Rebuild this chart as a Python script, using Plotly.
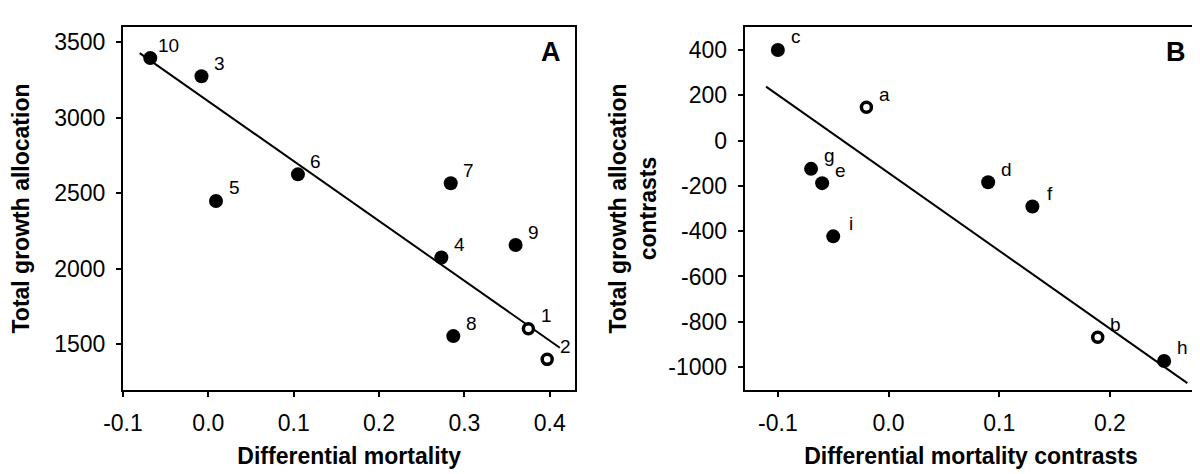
import plotly.graph_objects as go

# Panel A: differential mortality vs total growth allocation
a_fill_lab = ["10", "3", "5", "6", "7", "4", "9", "8"]
a_fill_x = [-0.068, -0.008, 0.009, 0.105, 0.284, 0.273, 0.360, 0.287]
a_fill_y = [3396, 3276, 2450, 2626, 2567, 2076, 2158, 1555]
a_open_lab = ["1", "2"]
a_open_x = [0.375, 0.397]
a_open_y = [1603, 1401]
a_line_x = [-0.0804, 0.4118]
a_line_y = [3429, 1478]

# Panel B: contrasts
b_fill_lab = ["c", "g", "e", "i", "d", "f", "h"]
b_fill_x = [-0.100, -0.070, -0.060, -0.050, 0.090, 0.130, 0.249]
b_fill_y = [400, -125, -188, -423, -184, -291, -973]
b_open_lab = ["a", "b"]
b_open_x = [-0.020, 0.189]
b_open_y = [147, -868]
b_line_x = [-0.1107, 0.270]
b_line_y = [238, -1071]

a_xticks = [-0.1, 0.0, 0.1, 0.2, 0.3, 0.4]
a_xtext = ["-0.1", "0.0", "0.1", "0.2", "0.3", "0.4"]
a_yticks = [1500, 2000, 2500, 3000, 3500]
b_xticks = [-0.1, 0.0, 0.1, 0.2]
b_xtext = ["-0.1", "0.0", "0.1", "0.2"]
b_yticks = [-1000, -800, -600, -400, -200, 0, 200, 400]
b_ytext = ["-1000", "-800", "-600", "-400", "-200", "0", "200", "400"]

FONT = "Liberation Sans, Arial, sans-serif"

fig = go.Figure()


def add_panel(fig, xa, ya, lx, ly, fx, fy, ox, oy):
    fig.add_trace(go.Scatter(x=lx, y=ly, mode="lines", xaxis=xa, yaxis=ya,
                             line=dict(color="black", width=2), showlegend=False))
    fig.add_trace(go.Scatter(x=fx, y=fy, mode="markers", xaxis=xa, yaxis=ya,
                             marker=dict(color="black", size=14, line=dict(width=0)),
                             showlegend=False))
    fig.add_trace(go.Scatter(x=ox, y=oy, mode="markers", xaxis=xa, yaxis=ya,
                             marker=dict(color="white", size=10,
                                         line=dict(color="black", width=3.5)),
                             showlegend=False))


add_panel(fig, "x", "y", a_line_x, a_line_y, a_fill_x, a_fill_y, a_open_x, a_open_y)
add_panel(fig, "x2", "y2", b_line_x, b_line_y, b_fill_x, b_fill_y, b_open_x, b_open_y)

annotations = []
for xa, ya, labs, xs, ys in [
    ("x", "y", a_fill_lab + a_open_lab, a_fill_x + a_open_x, a_fill_y + a_open_y),
    ("x2", "y2", b_fill_lab + b_open_lab, b_fill_x + b_open_x, b_fill_y + b_open_y),
]:
    for t, xv, yv in zip(labs, xs, ys):
        annotations.append(dict(
            x=xv, y=yv, xref=xa, yref=ya, text=t, showarrow=False,
            xanchor="center", yanchor="middle", xshift=18, yshift=13,
            font=dict(size=19, color="black", family=FONT)))

annotations.append(dict(x=0.9456, y=0.931, xref="x domain", yref="y domain", text="<b>A</b>",
                        showarrow=False, xanchor="center", yanchor="middle",
                        font=dict(size=27, color="black", family=FONT)))
annotations.append(dict(x=0.9536, y=0.931, xref="x2 domain", yref="y2 domain", text="<b>B</b>",
                        showarrow=False, xanchor="center", yanchor="middle",
                        font=dict(size=27, color="black", family=FONT)))

axis_common = dict(showline=True, mirror=True, linecolor="black", linewidth=2,
                   ticks="outside", ticklen=5, tickwidth=1.5, tickcolor="black",
                   showgrid=False, zeroline=False, automargin=False,
                   tickfont=dict(size=23, color="black", family=FONT),
                   title_font=dict(size=23, color="black", family=FONT))

fig.update_layout(
    template="none",
    width=1200, height=474,
    margin=dict(l=0, r=0, t=0, b=0, pad=0),
    paper_bgcolor="white", plot_bgcolor="white",
    font=dict(family=FONT, color="black"),
    xaxis=dict(axis_common, domain=[0.0958, 0.4728], range=[-0.1, 0.43],
               tickvals=a_xticks, ticktext=a_xtext, anchor="y",
               ticklabelstandoff=7,
               title=dict(text="<b>Differential mortality</b>", standoff=13)),
    yaxis=dict(axis_common, domain=[0.1947, 0.9593], range=[1200, 3600],
               tickvals=a_yticks, anchor="x", ticklabelstandoff=6,
               title=dict(text="<b>Total growth allocation</b>", standoff=20)),
    xaxis2=dict(axis_common, domain=[0.6139, 0.9911], range=[-0.13, 0.279],
                tickvals=b_xticks, ticktext=b_xtext, anchor="y2",
                ticklabelstandoff=7,
                title=dict(text="<b>Differential mortality contrasts</b>", standoff=13)),
    yaxis2=dict(axis_common, domain=[0.1947, 0.9593], range=[-1100, 500],
                tickvals=b_yticks, ticktext=b_ytext, anchor="x2", ticklabelstandoff=6,
                title=dict(text="<b>Total growth allocation<br>contrasts</b>", standoff=5)),
    annotations=annotations,
)

fig.write_html("out.html")
